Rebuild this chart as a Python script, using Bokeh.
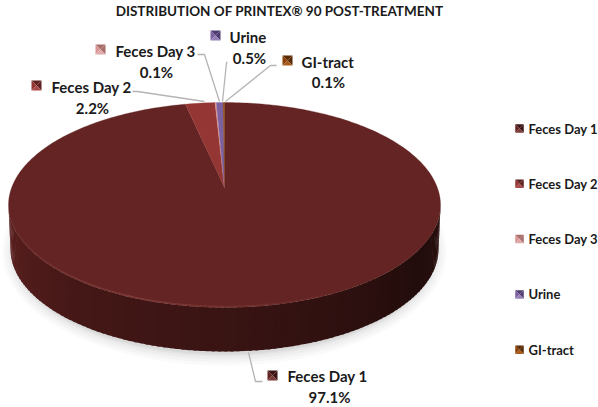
from bokeh.plotting import figure
from bokeh.models import Range1d
from bokeh.embed import file_html
from bokeh.resources import INLINE
from bokeh.core.properties import value
import math

# ---- data ----
categories = ["Feces Day 1", "Feces Day 2", "Feces Day 3", "Urine", "GI-tract"]
percents = [97.1, 2.2, 0.1, 0.5, 0.1]
pct_labels = ["97.1%", "2.2%", "0.1%", "0.5%", "0.1%"]
title_text = "DISTRIBUTION OF PRINTEX\u00ae 90 POST-TREATMENT"

# ---- styles / layout ----
slice_colors = ["#632423", "#943634", "#d99694", "#7b61a0", "#8a4208"]
marker_dark = ["#3c1413", "#5f2020", "#a86e6c", "#4f3c70", "#5a2a05"]
marker_light = ["#7a3a38", "#a84a48", "#e0a8a6", "#9680b8", "#a85c1c"]
FONT = "Lato"
CX, CY, RX, RY = 224.0, 204.5, 216.0, 102.5     # top face
APEX = (224.0, 187.0)
DEPTH = 44.0

W, H = 598, 407
p = figure(width=W, height=H, output_backend="svg", toolbar_location=None,
           x_range=Range1d(0, W), y_range=Range1d(H, 0),
           min_border=0, outline_line_color=None)
p.xaxis.visible = False
p.yaxis.visible = False
p.grid.visible = False


def rim(frac):
    t = 2 * math.pi * frac
    return CX + RX * math.sin(t), CY - RY * math.cos(t)


# soft shadow under the pie
for grow, alpha in [(12, .04), (9, .05), (6, .06), (3, .08), (1, .1)]:
    xs = [CX + (RX - 6 + grow) * math.cos(math.radians(a)) for a in range(0, 360, 2)]
    ys = [CY + DEPTH + 3 + (RY - 1 + grow) * math.sin(math.radians(a)) for a in range(0, 360, 2)]
    p.patch(xs, ys, fill_color="#808080", fill_alpha=alpha, line_color=None)


# side wall drawn as strips, shading darker toward the right
def lerp(a, b, t):
    return tuple(round(a[i] + (b[i] - a[i]) * t) for i in range(3))


stops = [(0.0, (0x5c, 0x20, 0x1f)), (0.25, (0x45, 0x18, 0x17)), (0.6, (0x33, 0x12, 0x11)),
         (0.85, (0x22, 0x0d, 0x0c)), (1.0, (0x2a, 0x10, 0x0f))]


def side_col(t):
    for (t0, c0), (t1, c1) in zip(stops, stops[1:]):
        if t <= t1:
            return "#%02x%02x%02x" % lerp(c0, c1, (t - t0) / (t1 - t0))
    return "#220d0c"


N = 108
for i in range(N):
    a0 = math.pi * i / N
    a1 = min(math.pi * (i + 1.4) / N, math.pi)
    xa0, xa1 = -math.cos(a0), -math.cos(a1)
    ya0, ya1 = math.sin(a0), math.sin(a1)
    xs = [CX + RX * xa0, CX + RX * xa1, CX + (RX - 2) * xa1, CX + (RX - 2) * xa0]
    ys = [CY + RY * ya0, CY + RY * ya1, CY + DEPTH + RY * ya1, CY + DEPTH + RY * ya0]
    p.patch(xs, ys, fill_color=side_col(i / N), line_color=None)

# slices on the top face, built from the percentages
total = sum(percents)
cum = 0.0
for v, c in zip(percents, slice_colors):
    f0, f1 = cum / total, (cum + v) / total
    n = max(2, int((f1 - f0) * 360))
    pts = [rim(f0 + (f1 - f0) * k / n) for k in range(n + 1)]
    p.patch([APEX[0]] + [q[0] for q in pts], [APEX[1]] + [q[1] for q in pts],
            fill_color=c, line_color=c, line_width=0.3)
    cum += v

# bevel highlight along the front rim
for i in range(60, 170):
    a0, a1 = math.radians(i), math.radians(i + 1.5)
    t = 1 - abs(i - 115) / 55
    p.line([CX + (RX - 1) * math.cos(a0), CX + (RX - 1) * math.cos(a1)],
           [CY + (RY - 1) * math.sin(a0), CY + (RY - 1) * math.sin(a1)],
           line_color="#86423f", line_alpha=0.5 * t + 0.1, line_width=1.5)

# leader lines
leaders = [
    [(248, 352), (255, 381), (262, 381)],
    [(204, 101), (137, 91), (132, 91)],
    [(219, 101), (204, 54), (197, 54)],
    [(222, 101), (226, 62), (227, 62)],
    [(225, 101), (270, 65), (276, 65)],
]
for pts in leaders:
    p.line([q[0] for q in pts], [q[1] for q in pts], line_color="#b4b4b4", line_width=1.3)


def key(x, y, i, s):
    h = s / 2
    p.patch([x - h, x + h, x], [y - h, y - h, y], fill_color=marker_dark[i], line_color=None)
    p.patch([x - h, x, x - h], [y - h, y, y + h], fill_color=slice_colors[i], line_color=None)
    p.patch([x + h, x + h, x], [y - h, y + h, y], fill_color=marker_dark[i], line_color=None)
    p.patch([x - h, x + h, x], [y + h, y + h, y], fill_color=marker_light[i], line_color=None)


def label(x, y, txt, size="15px", align="left"):
    p.text([x], [y], text=[txt], text_font=value(FONT), text_font_style="bold",
           text_font_size=size, text_color="#1a1a1a", text_align=align, text_baseline="middle")


label(279, 10, title_text, "13.5px", "center")

# data labels: key, name, percent
dl = [
    (272, 375, 287, 375, 329, 396),
    (36, 85, 51, 86, 92, 107),
    (100, 49, 115, 50, 156, 71),
    (215, 35, 229, 36, 249, 57),
    (287, 60, 301, 61, 328, 81),
]
for i, (kx, ky, tx, ty, px, py) in enumerate(dl):
    key(kx, ky, i, 10)
    label(tx, ty, categories[i])
    label(px, py, pct_labels[i], align="center")

# legend on the right
for i, cat in enumerate(categories):
    y = 128 + i * 55.3
    key(519, y, i, 8.5)
    label(528, y, cat, "13px")

open("out.html", "w").write(file_html(p, INLINE))
